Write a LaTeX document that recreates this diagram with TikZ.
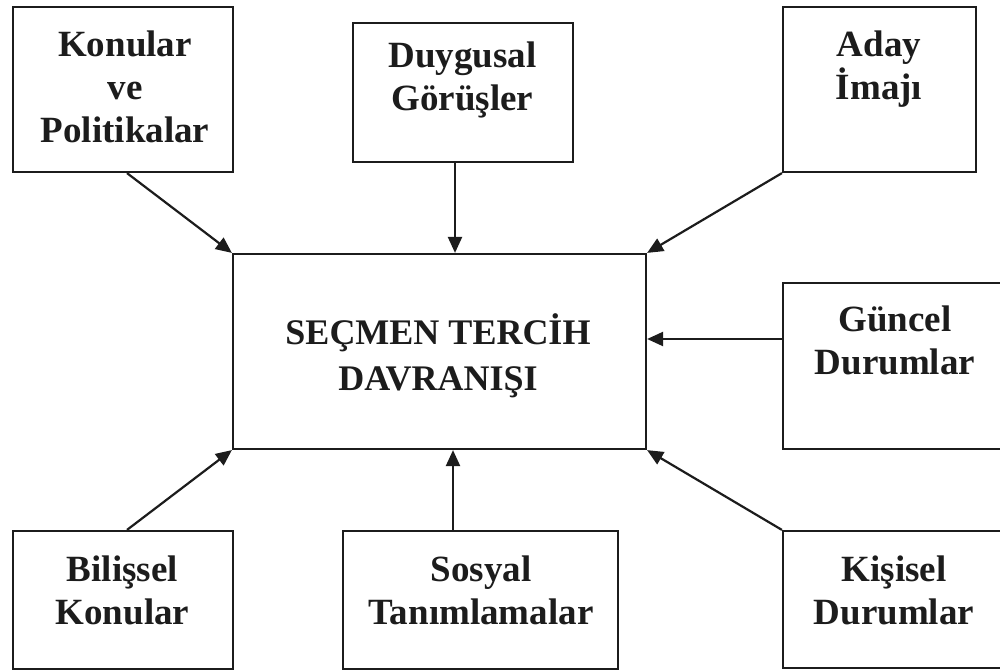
\documentclass[tikz,border=0pt]{standalone}
\usepackage{fontspec}
\setmainfont{Liberation Serif}
\usetikzlibrary{arrows.meta}
\definecolor{ink}{HTML}{1C1C1C}
\tikzset{
  box/.style={draw=ink, line width=2.2pt, inner sep=0pt, fill=white},
  lbl/.style={anchor=north, inner sep=0pt, align=center, text=ink,
    font=\bfseries\fontsize{37pt}{43pt}\selectfont},
  biglbl/.style={anchor=north, inner sep=0pt, align=center, text=ink,
    font=\bfseries\fontsize{36pt}{46pt}\selectfont},
  conn/.style={draw=ink, line width=2.2pt, -{Triangle[length=16pt,width=14pt]}}
}
\begin{document}
\begin{tikzpicture}[x=1pt, y=-1pt]
\useasboundingbox (0,0) rectangle (1000,671);
% boxes
\node[box, minimum width=220pt, minimum height=165pt] (kp) at (123,89.5) {};
\node[box, minimum width=220pt, minimum height=139pt] (dg) at (463,92.5) {};
\node[box, minimum width=193pt, minimum height=165pt] (ai) at (879.5,89.5) {};
\node[box, minimum width=413pt, minimum height=195pt] (sc) at (439.5,351.5) {};
\node[box, minimum width=220pt, minimum height=166pt] (gd) at (893,366) {};
\node[box, minimum width=220pt, minimum height=138pt] (bk) at (123,600) {};
\node[box, minimum width=275pt, minimum height=138pt] (st) at (480.5,600) {};
\node[box, minimum width=220pt, minimum height=137pt] (kd) at (893,599.5) {};
% texts
\node[lbl] (tkp) at (125,31) {Konular\\ve\\Politikalar};
\node[lbl] (tdg) at (462.5,42) {Duygusal\\Görüşler};
\node[lbl] (tai) at (879,31) {Aday\\İmajı};
\node[biglbl] (tsc) at (438,313) {SEÇMEN TERCİH\\DAVRANIŞI};
\node[lbl] (tgd) at (895,306) {Güncel\\Durumlar};
\node[lbl] (tbk) at (122.5,556) {Bilişsel\\Konular};
\node[lbl] (tst) at (481,556) {Sosyal\\Tanımlamalar};
\node[lbl] (tkd) at (894,556) {Kişisel\\Durumlar};
% connectors
\draw[conn] ([xshift=4pt]kp.south) -- (sc.north west);
\draw[conn] ([xshift=-8pt]dg.south) -- ([xshift=-8pt]dg.south |- sc.north);
\draw[conn] (ai.south west) -- (sc.north east);
\draw[conn] ([yshift=27pt]gd.west) -- ([yshift=27pt]gd.west -| sc.east);
\draw[conn] ([xshift=4pt]bk.north) -- (sc.south west);
\draw[conn] ([xshift=-27.5pt]st.north) -- ([xshift=-27.5pt]st.north |- sc.south);
\draw[conn] (kd.north west) -- (sc.south east);
\end{tikzpicture}
\end{document}
